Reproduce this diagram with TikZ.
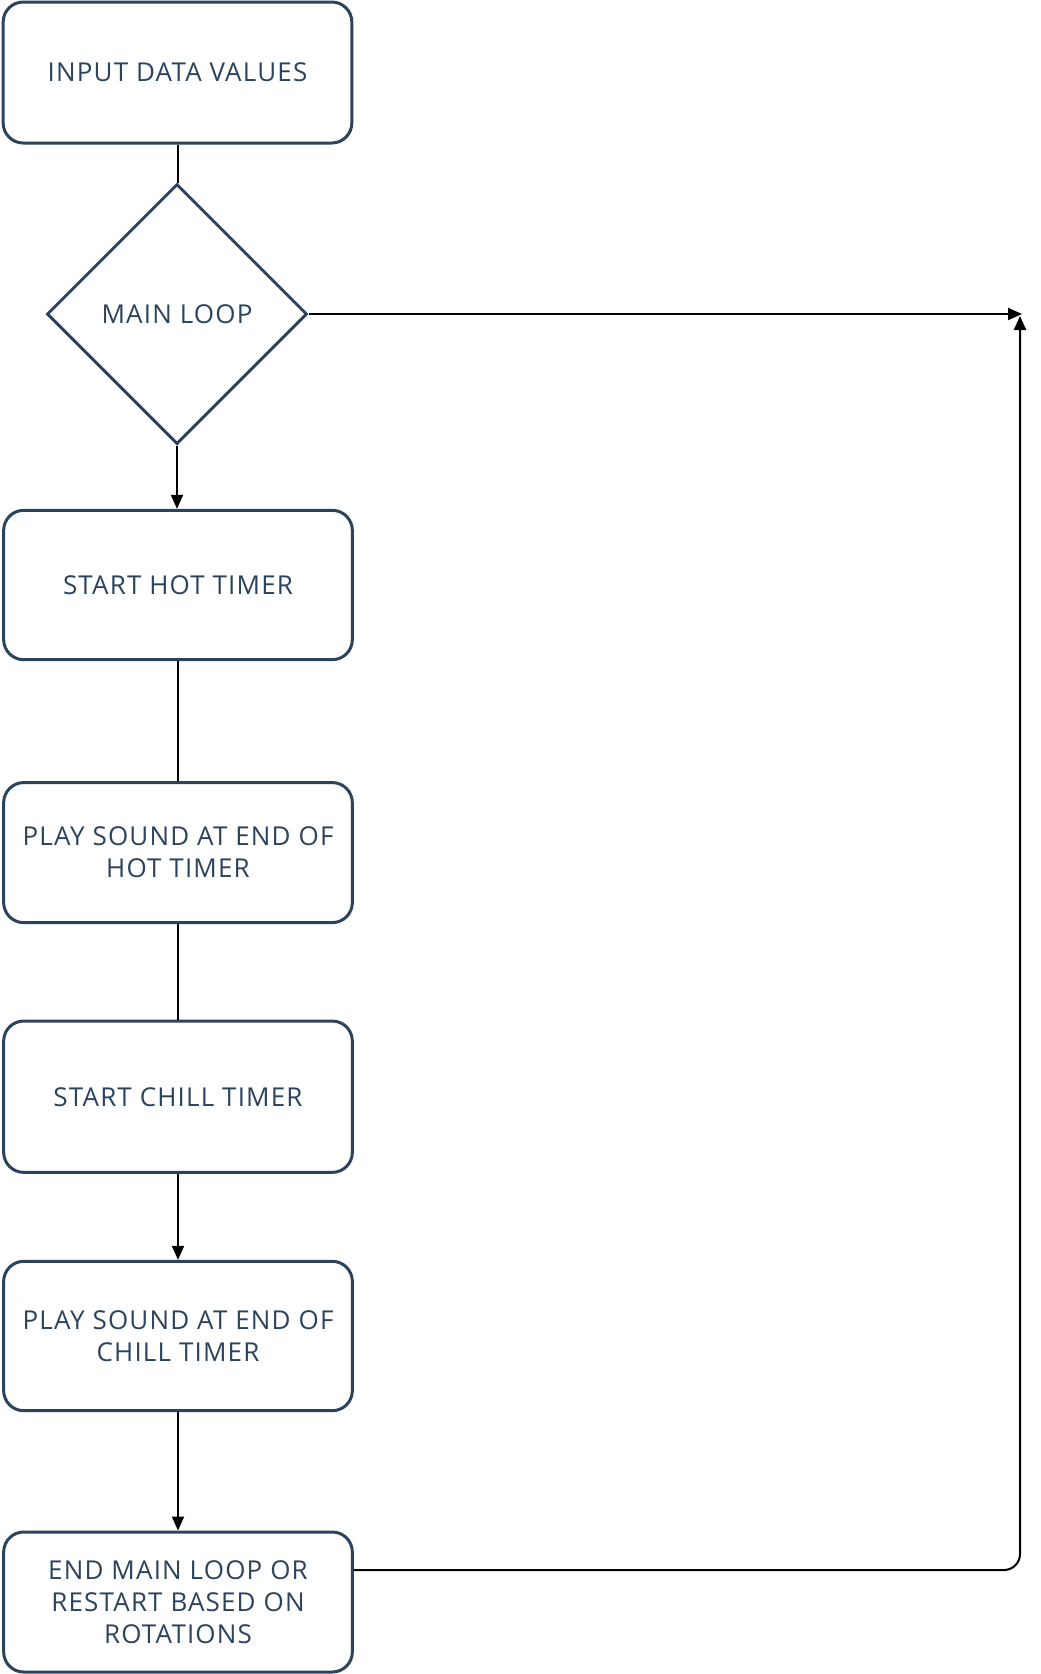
\documentclass[tikz,border=0pt]{standalone}
\usepackage{fontspec}
\setmainfont{Open Sans}[LetterSpace=4.5]
\usetikzlibrary{shapes.geometric,arrows.meta}
\definecolor{navy}{HTML}{2C435E}
\tikzset{
  box/.style={draw=navy, line width=2.25pt, rounded corners=15pt, fill=white,
    minimum width=261.5pt, align=center, text=navy, font=\fontsize{19.5}{24}\selectfont, inner sep=0pt},
  dec/.style={draw=navy, line width=2.25pt, diamond, aspect=1, minimum width=195pt, minimum height=195pt,
    inner sep=0pt, text=navy, font=\fontsize{19.5}{24}\selectfont},
  conn/.style={line width=1.5pt, black},
  arr/.style={conn, -{Triangle[length=10.5pt,width=9pt]}}
}
\begin{document}
\begin{tikzpicture}[x=0.75pt,y=-0.75pt]
\useasboundingbox (0,0) rectangle (1040,1674);
\node[box, minimum height=105.75pt] (inp) at (177.5,72.5) {INPUT DATA VALUES};
\node[dec] (loop) at (177,314) {MAIN LOOP};
\node[box, minimum height=112pt] (hot) at (178,585) {START HOT TIMER};
\node[box, minimum height=105pt] (phot) at (178,852.6) {PLAY SOUND AT END OF\\HOT TIMER};
\node[box, minimum height=113.5pt] (chill) at (178,1096.7) {START CHILL TIMER};
\node[box, minimum height=112pt] (pchill) at (178,1336) {PLAY SOUND AT END OF\\CHILL TIMER};
\node[box, minimum height=105pt] (endn) at (178,1602) {END MAIN LOOP OR\\RESTART BASED ON\\ROTATIONS};
\coordinate (rt) at (1022,314);
\coordinate (rb) at (1020,316);
\draw[conn] (inp.south) -- (inp.south |- loop.north);
\draw[arr] (loop.south) -- (loop.south |- hot.north);
\draw[conn] (hot.south) -- (phot.north);
\draw[conn] (phot.south) -- (chill.north);
\draw[arr] (chill.south) -- (pchill.north);
\draw[arr] (pchill.south) -- (endn.north);
\draw[arr] (loop.east) -- (rt);
\draw[arr, rounded corners=12pt] ([yshift=24pt]endn.east) -| (rb);
\end{tikzpicture}
\end{document}
